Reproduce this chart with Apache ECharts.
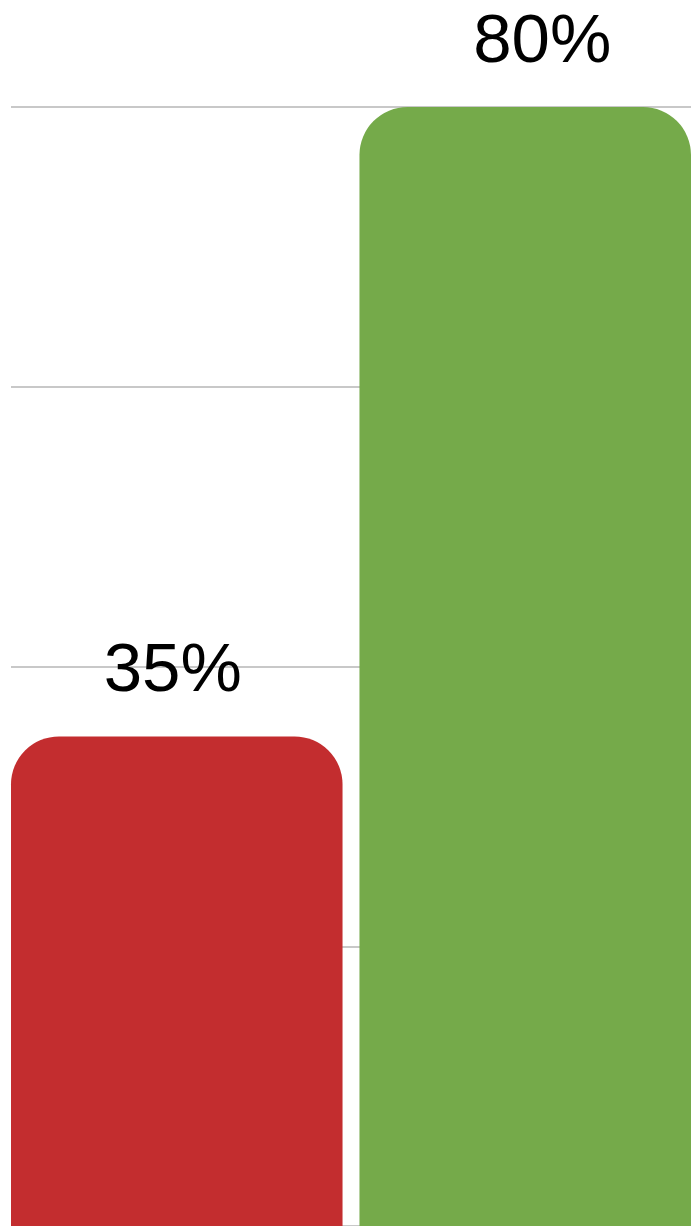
<!DOCTYPE html>
<html>
<head>
<meta charset="utf-8">
<script src="https://cdn.jsdelivr.net/npm/echarts@6/dist/echarts.min.js"></script>
<style>
    html, body { margin: 0; padding: 0; background: #fff; }
    #chart { width: 691px; height: 1226px; }
</style>
</head>
<body>
<div id="chart"></div>
<script>
    // 数据
    var categories = [''];
    var seriesNames = ['A', 'B'];
    var values = [35, 80];
    var yTicks = [0, 20, 40, 60, 80];

    var barColors = ['#c32d2f', '#75aa4a'];
    var labelOffsets = [[-4, 0], [17, 0]];

    var series = [];
    for (var i = 0; i < values.length; i++) {
        series.push({
            name: seriesNames[i],
            type: 'bar',
            data: [values[i]],
            barWidth: 332,
            barGap: '5.1%',
            itemStyle: {
                color: barColors[i],
                borderRadius: [48, 48, 0, 0]
            },
            label: {
                show: true,
                position: 'top',
                distance: 30,
                offset: labelOffsets[i],
                formatter: '{c}%',
                fontFamily: 'Liberation Sans, Arial, sans-serif',
                fontSize: 69,
                color: '#000'
            }
        });
    }

    var chart = echarts.init(document.getElementById('chart'));
    chart.setOption({
        animation: false,
        grid: { left: 11, right: 0, top: 107, bottom: 0, containLabel: false },
        xAxis: {
            type: 'category',
            data: categories,
            axisLine: { show: false },
            axisTick: { show: false },
            axisLabel: { show: false }
        },
        yAxis: {
            type: 'value',
            min: yTicks[0],
            max: yTicks[yTicks.length - 1],
            interval: yTicks[1] - yTicks[0],
            axisLabel: { show: false },
            axisLine: { show: false },
            axisTick: { show: false },
            splitLine: { lineStyle: { color: '#c8c8c8', width: 2 } }
        },
        series: series
    });
</script>
</body>
</html>
